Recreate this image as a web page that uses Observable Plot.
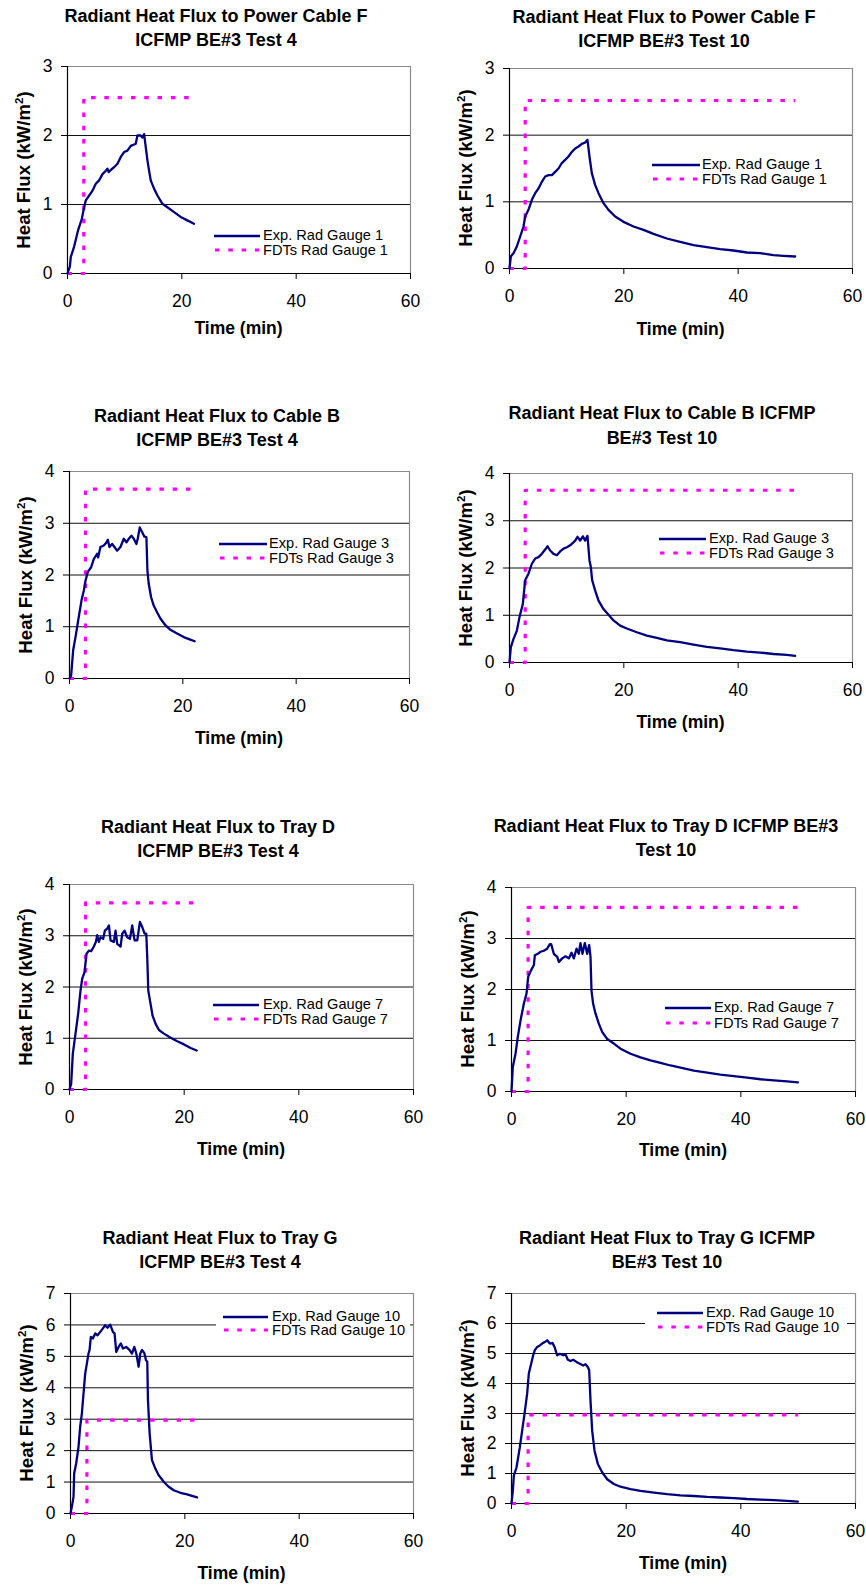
<!DOCTYPE html>
<html>
<head>
<meta charset="utf-8">
<script src="https://cdn.jsdelivr.net/npm/d3@7"></script>
<script src="https://cdn.jsdelivr.net/npm/@observablehq/plot@0.6"></script>
<style>
  html, body { margin: 0; padding: 0; background: #fff; }
  #page { position: relative; width: 866px; height: 1587px; background: #fff; overflow: hidden;
          font-family: "Liberation Sans", Arial, sans-serif; color: #000; }
  .title { position: absolute; width: 440px; text-align: center; font-weight: bold; font-size: 18px; line-height: 24.5px; white-space: nowrap; }
  .xlab { position: absolute; font-weight: bold; font-size: 17.5px; white-space: nowrap; transform: translate(-50%, -50%); }
  .ylab { position: absolute; font-weight: bold; font-size: 18.6px; white-space: nowrap; transform: translate(-50%, -50%) rotate(-90deg); }
  .ylab sup { font-size: 11.5px; vertical-align: 0.6em; line-height: 0; }
  svg.chart text { font-size: 17.5px; font-family: "Liberation Sans", Arial, sans-serif; fill: #000; }
</style>
</head>
<body>
<div id="page"></div>
<script>
// ---------------- DATA ----------------
const titles = [
  ["Radiant Heat Flux to Power Cable F", "ICFMP BE#3 Test 4"],
  ["Radiant Heat Flux to Power Cable F", "ICFMP BE#3 Test 10"],
  ["Radiant Heat Flux to Cable B", "ICFMP BE#3 Test 4"],
  ["Radiant Heat Flux to Cable B ICFMP", "BE#3 Test 10"],
  ["Radiant Heat Flux to Tray D", "ICFMP BE#3 Test 4"],
  ["Radiant Heat Flux to Tray D ICFMP BE#3", "Test 10"],
  ["Radiant Heat Flux to Tray G", "ICFMP BE#3 Test 4"],
  ["Radiant Heat Flux to Tray G ICFMP", "BE#3 Test 10"]
];
const gaugeNumbers = [1, 1, 3, 3, 7, 7, 10, 10];
const yMax = [3, 3, 4, 4, 4, 4, 7, 7];
const xTicks = [0, 20, 40, 60];
const xLabel = "Time (min)";
const yLabel = "Heat Flux (kW/m";

// FDTs step prediction: jump time (min), predicted flux (kW/m2), end time (min)
const fdtStepTime = [2.85, 2.75, 2.82, 2.75, 2.8, 2.9, 2.87, 2.9];
const fdtValue    = [2.55, 2.52, 3.66, 3.645, 3.64, 3.61, 2.97, 2.955];
const fdtEndTime  = [22.1, 50, 22.1, 50, 22.2, 50, 22.1, 50];

// Experimental gauges [time (min), flux (kW/m2)]
const expCableF_T4 = [[0,0],[0.41,0.10],[0.58,0.24],[1.16,0.39],[1.86,0.63],[2.5,0.79],[2.91,0.96],[3.2,1.06],[3.79,1.13],[4.37,1.2],[4.95,1.3],[5.53,1.35],[6.12,1.44],[6.7,1.49],[6.99,1.52],[7.2,1.47],[7.57,1.5],[8.15,1.54],[8.74,1.59],[9.32,1.69],[9.9,1.76],[10.48,1.78],[11.07,1.85],[11.65,1.87],[11.94,1.88],[12.23,2.0],[12.81,2.0],[13.1,1.97],[13.4,2.02],[13.69,1.83],[13.98,1.64],[14.27,1.49],[14.56,1.35],[15.14,1.23],[15.73,1.13],[16.6,1.01],[17.47,0.96],[18.64,0.89],[19.8,0.82],[20.97,0.77],[22.13,0.72]];
const expCableF_T10 = [[0,0],[0.23,0.18],[0.7,0.23],[1.28,0.33],[1.87,0.48],[2.45,0.63],[2.74,0.78],[3.32,0.88],[3.91,1.03],[4.49,1.13],[5.07,1.2],[5.66,1.3],[6.24,1.38],[6.82,1.4],[7.41,1.4],[7.99,1.45],[8.57,1.5],[9.15,1.58],[9.74,1.63],[10.32,1.68],[10.9,1.75],[11.49,1.8],[12.07,1.83],[12.65,1.87],[13.24,1.89],[13.64,1.93],[13.99,1.68],[14.4,1.43],[14.99,1.25],[15.57,1.13],[16.44,0.98],[17.32,0.88],[18.48,0.78],[19.94,0.7],[21.69,0.63],[23.44,0.58],[25.19,0.52],[27.52,0.45],[29.85,0.4],[32.19,0.35],[34.52,0.32],[36.85,0.29],[39.18,0.27],[41.52,0.24],[43.85,0.23],[46.18,0.2],[47.93,0.19],[49.97,0.18]];
const expCableB_T4 = [[0,0],[0.29,0.06],[0.65,0.55],[1.06,0.8],[1.53,1.12],[2.12,1.51],[2.53,1.7],[2.82,1.89],[3.23,2.06],[3.82,2.15],[4.29,2.31],[4.88,2.41],[5.05,2.34],[5.46,2.54],[6.05,2.57],[6.52,2.63],[6.76,2.68],[7.05,2.54],[7.52,2.6],[7.93,2.54],[8.4,2.47],[8.99,2.54],[9.58,2.7],[10.05,2.63],[10.46,2.7],[10.93,2.76],[11.34,2.7],[11.81,2.6],[12.04,2.7],[12.4,2.92],[12.81,2.83],[13.22,2.74],[13.57,2.73],[13.75,2.09],[13.98,1.83],[14.4,1.57],[14.86,1.41],[15.45,1.28],[16.04,1.16],[16.92,1.03],[17.8,0.94],[18.98,0.87],[20.15,0.8],[21.33,0.75],[22.09,0.72]];
const expCableB_T10 = [[0,0],[0.23,0.32],[0.7,0.5],[1.28,0.67],[1.75,0.96],[2.33,1.24],[2.74,1.74],[3.32,1.88],[3.91,2.09],[4.49,2.2],[5.07,2.23],[5.66,2.3],[6.24,2.39],[6.65,2.46],[7.11,2.37],[7.7,2.3],[8.28,2.27],[8.86,2.35],[9.45,2.41],[10.03,2.44],[10.61,2.48],[11.08,2.53],[11.49,2.58],[11.9,2.66],[12.36,2.58],[12.83,2.67],[13.24,2.58],[13.64,2.68],[13.99,2.16],[14.23,2.02],[14.46,1.74],[14.99,1.52],[15.57,1.31],[16.44,1.13],[17.32,1.01],[18.19,0.89],[19.36,0.78],[20.52,0.72],[22.27,0.64],[24.02,0.57],[25.77,0.52],[27.52,0.47],[29.85,0.43],[32.19,0.38],[34.52,0.33],[36.85,0.3],[39.18,0.26],[41.52,0.23],[43.85,0.21],[46.18,0.18],[48.51,0.16],[49.97,0.14]];
const expTrayD_T4 = [[0,0],[0.29,0.11],[0.58,0.7],[1.05,1.09],[1.51,1.48],[1.92,1.93],[2.21,2.16],[2.62,2.29],[2.97,2.65],[3.38,2.71],[3.78,2.7],[4.25,2.79],[4.6,2.88],[4.83,3.01],[5.12,2.88],[5.41,2.97],[5.88,2.94],[6.17,3.1],[6.58,3.14],[6.87,3.2],[7.16,2.91],[7.74,2.88],[8.03,3.1],[8.32,2.84],[8.91,2.79],[9.2,3.04],[9.6,3.1],[10.07,2.97],[10.54,2.94],[10.94,3.2],[11.35,2.91],[11.82,2.91],[12.28,3.27],[12.69,3.17],[13.1,3.04],[13.39,3.04],[13.56,2.58],[13.74,1.93],[14.14,1.67],[14.49,1.44],[15.02,1.28],[15.6,1.16],[16.47,1.09],[17.64,1.01],[18.8,0.94],[19.97,0.88],[21.13,0.81],[22.18,0.76]];
const expTrayD_T10 = [[0,0],[0.23,0.48],[0.7,0.74],[1.1,1.07],[1.57,1.39],[2.15,1.72],[2.62,1.92],[2.91,2.25],[3.43,2.38],[3.9,2.48],[4.07,2.67],[4.59,2.7],[5.06,2.74],[5.64,2.76],[6.22,2.8],[6.69,2.89],[6.92,2.89],[7.38,2.7],[7.97,2.64],[8.26,2.54],[8.84,2.61],[9.42,2.65],[10,2.61],[10.47,2.72],[10.87,2.61],[11.34,2.8],[11.74,2.7],[12.03,2.91],[12.38,2.7],[12.79,2.91],[13.2,2.7],[13.55,2.87],[13.78,2.64],[13.95,1.98],[14.24,1.72],[14.65,1.53],[15.23,1.33],[15.81,1.17],[16.69,1.03],[17.85,0.94],[19.01,0.84],[20.76,0.74],[22.5,0.67],[24.24,0.61],[25.99,0.56],[27.73,0.51],[29.48,0.47],[31.8,0.41],[34.13,0.37],[36.45,0.33],[38.78,0.3],[41.1,0.27],[43.43,0.24],[45.76,0.22],[48.08,0.2],[49.94,0.18]];
const expTrayG_T4 = [[0,0],[0.23,0.21],[0.53,0.53],[0.64,1.27],[0.99,1.59],[1.4,2.12],[1.69,2.76],[1.99,3.18],[2.28,3.82],[2.57,4.45],[2.86,4.77],[3.15,5.09],[3.33,5.2],[3.56,5.62],[3.91,5.57],[4.32,5.73],[4.73,5.67],[5.2,5.78],[5.67,5.89],[6.07,5.99],[6.48,5.91],[6.95,6.01],[7.42,5.78],[7.71,5.73],[8,5.14],[8.41,5.3],[8.82,5.41],[9.17,5.25],[9.75,5.3],[10.34,5.2],[10.75,5.09],[11.16,5.3],[11.51,5.09],[11.92,4.67],[12.21,5.09],[12.5,5.2],[12.91,5.11],[13.2,4.88],[13.43,4.83],[13.55,3.61],[13.84,2.55],[14.25,1.7],[14.84,1.43],[15.42,1.22],[16.3,1.01],[17.17,0.85],[18.05,0.74],[19.22,0.66],[20.39,0.61],[21.26,0.56],[22.14,0.51]];
const expTrayG_T10 = [[0,0],[0.23,0.42],[0.41,0.93],[0.87,1.2],[1.45,1.87],[1.86,2.43],[2.27,2.99],[2.73,3.66],[3.02,4.33],[3.43,4.66],[3.78,4.94],[4.07,5.11],[4.48,5.22],[4.94,5.27],[5.35,5.33],[5.81,5.38],[6.22,5.44],[6.69,5.33],[7.15,5.35],[7.5,5.22],[7.97,4.94],[8.43,4.99],[9.01,4.94],[9.42,4.97],[9.83,4.79],[10.29,4.75],[10.76,4.79],[11.34,4.72],[11.92,4.66],[12.5,4.6],[12.91,4.64],[13.31,4.55],[13.55,4.44],[13.78,3.43],[14.07,2.43],[14.48,1.76],[15.06,1.32],[15.81,1.04],[16.69,0.81],[17.85,0.65],[19.01,0.56],[20.76,0.48],[22.5,0.42],[24.83,0.36],[27.15,0.31],[29.48,0.27],[31.8,0.25],[34.13,0.22],[36.45,0.2],[38.78,0.18],[41.1,0.15],[43.43,0.13],[45.76,0.11],[48.08,0.09],[49.94,0.06]];

const expSeries = [expCableF_T4, expCableF_T10, expCableB_T4, expCableB_T10, expTrayD_T4, expTrayD_T10, expTrayG_T4, expTrayG_T10];

// ---------------- LAYOUT (page pixels) ----------------
const layout = [
  {L:67,  R:410, T:66,   B:273,  tx:216, ty:16,   xl:328,  lg:[214,260,236,250,263]},
  {L:509, R:852, T:68,   B:268,  tx:664, ty:17,   xl:329,  lg:[652,700,165,179,702]},
  {L:69,  R:409, T:471,  B:678,  tx:217, ty:416,  xl:738,  lg:[219,267,544,558,269]},
  {L:509, R:852, T:473,  B:662,  tx:662, ty:413.5,xl:722,  lg:[659,706,539,553,709]},
  {L:69,  R:413, T:884,  B:1089, tx:218, ty:827,  xl:1149, lg:[213,259,1005,1019,263]},
  {L:511, R:855, T:887,  B:1091, tx:666, ty:826,  xl:1150, lg:[665,711,1008,1023,714]},
  {L:70,  R:413, T:1293, B:1513, tx:220, ty:1238, xl:1573, lg:[223,268,1317,1330,272], box:[216,1304,194,39]},
  {L:511, R:855, T:1293, B:1503, tx:667, ty:1238, xl:1563, lg:[657,703,1313,1327,706], box:[645,1301,202,39]}
];
const EXP_COLOR = "#000080", FDT_COLOR = "#ff00ff";
const DASH = "4.5 8.8";

const page = document.getElementById("page");

layout.forEach((lay, i) => {
  const colX = lay.L < 433 ? 0 : 433;
  const mt = 14, mb = 46;
  const ym = yMax[i];
  const yTicks = d3.range(0, ym + 1);
  const exp = expSeries[i].map(([t, v]) => ({t, v}));
  const fdt = [
    {t: 0, v: 0}, {t: fdtStepTime[i], v: 0},
    {t: fdtStepTime[i], v: fdtValue[i]}, {t: fdtEndTime[i], v: fdtValue[i]}
  ];
  const svg = Plot.plot({
    width: 433,
    height: (lay.B - lay.T) + mt + mb,
    marginLeft: lay.L - colX,
    marginRight: colX + 433 - lay.R,
    marginTop: mt,
    marginBottom: mb,
    x: {domain: [0, 60], ticks: xTicks, tickSize: 6, tickPadding: 15, tickFormat: d => String(d), label: null},
    y: {domain: [0, ym], ticks: yTicks, tickSize: 6, tickPadding: 9, tickFormat: d => String(d), label: null},
    style: {background: "transparent", fontFamily: "'Liberation Sans', Arial, sans-serif", fontSize: "17.5px", color: "#000", overflow: "visible"},
    marks: [
      Plot.ruleY(yTicks.filter(d => d > 0 && d < ym), {stroke: "#111", strokeWidth: 1}),
      Plot.ruleY([ym], {stroke: "#8c8c8c", strokeWidth: 1.2}),
      Plot.ruleX([60], {stroke: "#8c8c8c", strokeWidth: 1.2}),
      Plot.ruleY([0], {stroke: "#000", strokeWidth: 1.2}),
      Plot.ruleX([0], {stroke: "#000", strokeWidth: 1.2}),
      Plot.line(fdt, {x: "t", y: "v", stroke: FDT_COLOR, strokeWidth: 3.2, strokeDasharray: DASH, strokeLinecap: "butt"}),
      Plot.line(exp, {x: "t", y: "v", stroke: EXP_COLOR, strokeWidth: 2.3, curve: "linear"})
    ]
  });
  svg.classList.add("chart");
  svg.style.position = "absolute";
  svg.style.left = colX + "px";
  svg.style.top = (lay.T - mt) + "px";
  page.appendChild(svg);

  // title
  const tdiv = document.createElement("div");
  tdiv.className = "title";
  tdiv.style.left = (lay.tx - 220) + "px";
  tdiv.style.top = (lay.ty - 12.25) + "px";
  titles[i].forEach(line => {
    const d = document.createElement("div");
    d.textContent = line;
    tdiv.appendChild(d);
  });
  page.appendChild(tdiv);

  // x label
  const xd = document.createElement("div");
  xd.className = "xlab";
  xd.textContent = xLabel;
  xd.style.left = ((lay.L + lay.R) / 2) + "px";
  xd.style.top = lay.xl + "px";
  page.appendChild(xd);

  // y label
  const yd = document.createElement("div");
  yd.className = "ylab";
  yd.innerHTML = yLabel + "<sup>2</sup>)";
  yd.style.left = (lay.L - 43) + "px";
  yd.style.top = ((lay.T + lay.B) / 2) + "px";
  page.appendChild(yd);
});

// legends overlay
const overlay = d3.create("svg")
  .attr("width", 866).attr("height", 1587)
  .style("position", "absolute").style("left", "0px").style("top", "0px")
  .style("font-family", "'Liberation Sans', Arial, sans-serif");
layout.forEach((lay, i) => {
  const [x1, x2, y1, y2, tx] = lay.lg;
  const g = overlay.append("g");
  if (lay.box) {
    g.append("rect").attr("x", lay.box[0]).attr("y", lay.box[1])
      .attr("width", lay.box[2]).attr("height", lay.box[3]).attr("fill", "#fff");
  }
  g.append("line").attr("x1", x1).attr("x2", x2).attr("y1", y1).attr("y2", y1)
    .attr("stroke", EXP_COLOR).attr("stroke-width", 2.6);
  g.append("line").attr("x1", x1 + 1).attr("x2", x2).attr("y1", y2).attr("y2", y2)
    .attr("stroke", FDT_COLOR).attr("stroke-width", 3.2).attr("stroke-dasharray", DASH);
  g.append("text").attr("x", tx).attr("y", y1 - 1).attr("dy", "0.35em")
    .attr("font-size", 14.6).text("Exp. Rad Gauge " + gaugeNumbers[i]);
  g.append("text").attr("x", tx).attr("y", y2 - 0.5).attr("dy", "0.35em")
    .attr("font-size", 14.6).text("FDTs Rad Gauge " + gaugeNumbers[i]);
});
page.appendChild(overlay.node());
</script>
</body>
</html>
